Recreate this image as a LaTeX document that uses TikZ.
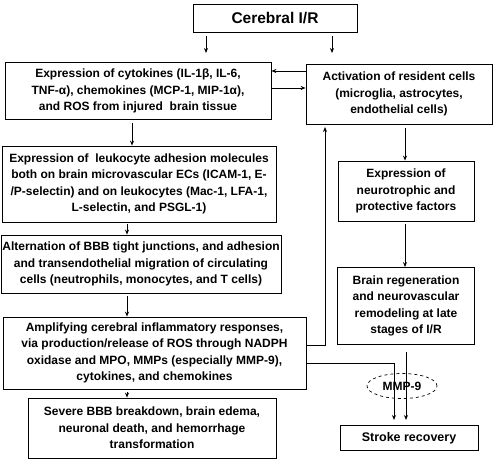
\documentclass[tikz,border=0pt]{standalone}
\usepackage{fontspec}
\setmainfont{Liberation Sans}
\usetikzlibrary{arrows.meta,shapes.geometric}
\begin{document}
\begin{tikzpicture}[x=1pt,y=-1pt,
  box/.style={draw, line width=0.8pt, align=center, inner sep=0pt,
    font=\bfseries\fontsize{12}{16.5}\selectfont},
  arr/.style={-{Stealth[length=5pt,width=4pt]}, line width=0.9pt},
  ln/.style={line width=0.9pt}]
\useasboundingbox (0,0) rectangle (494,462);
% left column
\node[box, minimum width=164pt, minimum height=28pt, font=\bfseries\fontsize{15.5}{18}\selectfont] (top) at (275,18) {Cerebral I/R};
\node[box, minimum width=266pt, minimum height=57pt] (A) at (138,91) {Expression of cytokines (IL-1β, IL-6,\\TNF-α), chemokines (MCP-1, MIP-1α),\\and ROS from injured\ \ brain tissue};
\node[box, minimum width=186pt, minimum height=60pt] (B) at (399,94) {Activation of resident cells\\(microglia, astrocytes,\\endothelial cells)};
\node[box, minimum width=274pt, minimum height=76pt] (C) at (139,184) {Expression of\ \ leukocyte adhesion molecules\\both on brain microvascular ECs (ICAM-1, E-\\/P-selectin) and on leukocytes (Mac-1, LFA-1,\\L-selectin, and PSGL-1)};
\node[box, minimum width=280pt, minimum height=58pt] (D) at (141,264) {Alternation of BBB tight junctions, and adhesion\\and transendothelial migration of circulating\\cells (neutrophils, monocytes, and T cells)};
\node[box, minimum width=303pt, minimum height=72pt] (E) at (154.5,353) {Amplifying cerebral inflammatory responses,\\via production/release of ROS through NADPH\\oxidase and MPO, MMPs (especially MMP-9),\\cytokines, and chemokines};
\node[box, minimum width=248pt, minimum height=60pt] (F) at (152,428) {Severe BBB breakdown, brain edema,\\neuronal death, and hemorrhage\\transformation};
% right column
\node[box, minimum width=136pt, minimum height=60pt] (G) at (406,191) {Expression of\\neurotrophic and\\protective factors};
\node[box, minimum width=137pt, minimum height=77pt] (H) at (406,306) {Brain regeneration\\and neurovascular\\remodeling at late\\stages of I/R};
\node[box, minimum width=138pt, minimum height=25pt, font=\bfseries\fontsize{12.5}{15}\selectfont] (S) at (409,438) {Stroke recovery};
\node[draw, dashed, ellipse, line width=0.7pt, minimum width=70pt, minimum height=25pt, inner sep=0pt, font=\bfseries\fontsize{12}{14}\selectfont] (M) at (402,386) {MMP-9};
% connectors
\coordinate (t1) at (206,36); \coordinate (t2) at (332,36);
\coordinate (s1) at (394,420); \coordinate (s2) at (406,420);
\draw[arr] (t1) -- (206,53);
\draw[arr] (t2) -- (332,53);
\draw[arr] (B.west |- 0,71) -- (A.east |- 0,71);
\draw[arr] (A.east |- 0,88) -- (B.west |- 0,88);
\draw[arr] (132,123) -- (C.north -| 132,0);
\draw[arr] (127,224) -- (D.north -| 127,0);
\draw[arr] (127,296) -- (E.north -| 127,0);
\draw[arr] (127,392) -- (F.north -| 127,0);
\draw[arr] (B.south -| 405,0) ++(0,4) -- (G.north -| 405,0);
\draw[arr] (G.south -| 405,0) ++(0,3) -- (H.north -| 405,0);
\draw[arr] (E.east |- 0,345) -| (325,127);
\draw[arr] (E.east |- 0,363) -| (s1);
\draw[arr] (406,352) -- (s2);
\end{tikzpicture}
\end{document}
